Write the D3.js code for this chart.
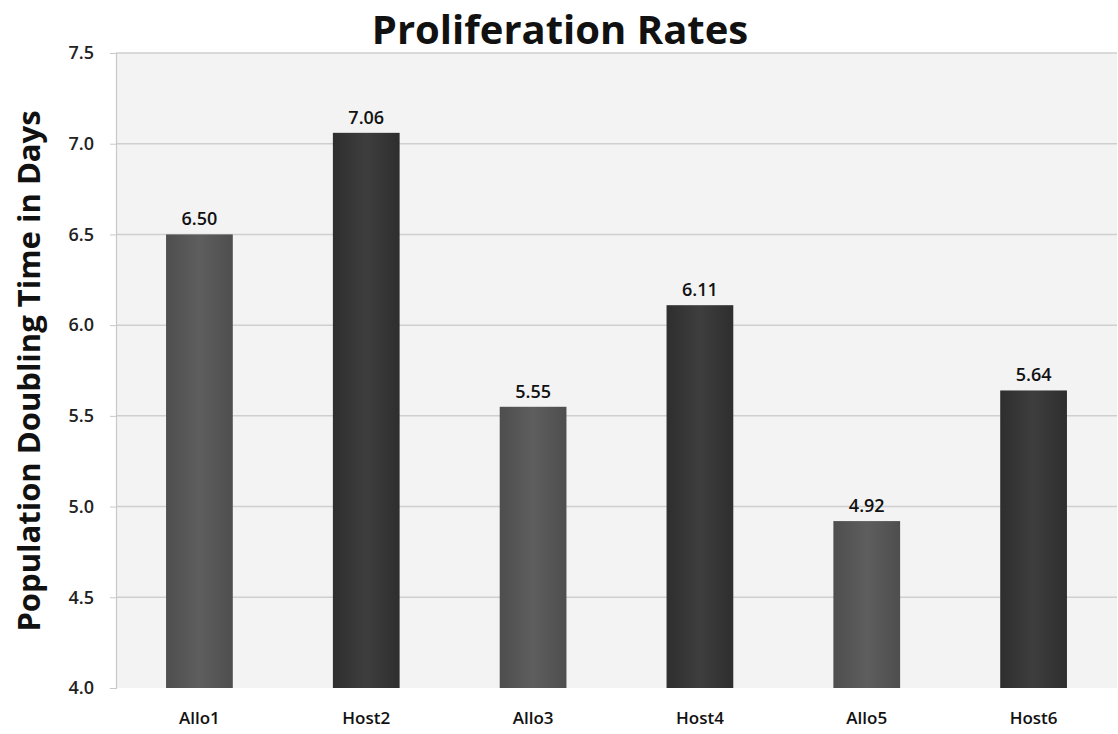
<!DOCTYPE html>
<html>
<head>
<meta charset="utf-8">
<script src="https://cdn.jsdelivr.net/npm/d3@7"></script>
<style>
  body { margin: 0; background: #fff; }
  text { font-family: "Open Sans", "Noto Sans", sans-serif; }
</style>
</head>
<body>
<svg id="chart"></svg>
<script>
// chart data
var categories = ["Allo1", "Host2", "Allo3", "Host4", "Allo5", "Host6"];
var values = [6.50, 7.06, 5.55, 6.11, 4.92, 5.64];
var groups = ["Allo", "Host", "Allo", "Host", "Allo", "Host"];
var yTicks = [4.0, 4.5, 5.0, 5.5, 6.0, 6.5, 7.0, 7.5];

var W = 1118, H = 734;
var margin = { top: 53, right: 1, bottom: 46, left: 116 };
var width = W - margin.left - margin.right;
var height = H - margin.top - margin.bottom;

var svg = d3.select("#chart")
  .attr("width", W)
  .attr("height", H);

// gradients for the slightly shaded bars
var defs = svg.append("defs");
var shades = { Allo: ["#4e4e4e", "#5e5e5e", "#4e4e4e"], Host: ["#2e2e2e", "#3e3e3e", "#2e2e2e"] };
Object.keys(shades).forEach(function(k) {
  var g = defs.append("linearGradient").attr("id", "grad" + k)
    .attr("x1", "0%").attr("x2", "100%").attr("y1", "0%").attr("y2", "0%");
  g.append("stop").attr("offset", "0%").attr("stop-color", shades[k][0]);
  g.append("stop").attr("offset", "50%").attr("stop-color", shades[k][1]);
  g.append("stop").attr("offset", "100%").attr("stop-color", shades[k][2]);
});

var g = svg.append("g")
  .attr("transform", "translate(" + margin.left + "," + margin.top + ")");

var x = d3.scaleBand()
  .domain(categories)
  .range([0, width])
  .paddingInner(0.6)
  .paddingOuter(0.3);

var y = d3.scaleLinear()
  .domain([4.0, 7.5])
  .range([height, 0]);

// plot background
g.append("rect")
  .attr("width", width)
  .attr("height", height)
  .attr("fill", "#f3f3f3");

// gridlines
g.selectAll(".grid")
  .data(yTicks.slice(1))
  .enter()
  .append("line")
  .attr("class", "grid")
  .attr("x1", 0)
  .attr("x2", width)
  .attr("y1", function(d) { return y(d); })
  .attr("y2", function(d) { return y(d); })
  .attr("stroke", "#cfcfcf")
  .attr("stroke-width", 1.5);

// y axis
var yAxis = d3.axisLeft(y)
  .tickValues(yTicks)
  .tickFormat(d3.format(".1f"))
  .tickSize(6)
  .tickPadding(16);

g.append("g")
  .attr("class", "y axis")
  .call(yAxis)
  .call(function(s) {
    s.select(".domain").attr("stroke", "#c8c8c8").attr("stroke-width", 1.2);
    s.selectAll(".tick line").attr("stroke", "#c8c8c8");
    s.selectAll(".tick text")
      .attr("fill", "#222")
      .style("font-size", "18px")
      .style("font-weight", "600");
  });

// bars
g.selectAll(".bar")
  .data(values)
  .enter()
  .append("rect")
  .attr("class", "bar")
  .attr("x", function(d, i) { return x(categories[i]); })
  .attr("y", function(d) { return y(d); })
  .attr("width", x.bandwidth())
  .attr("height", function(d) { return height - y(d); })
  .attr("fill", function(d, i) { return "url(#grad" + groups[i] + ")"; });

// value labels
g.selectAll(".val")
  .data(values)
  .enter()
  .append("text")
  .attr("class", "val")
  .attr("x", function(d, i) { return x(categories[i]) + x.bandwidth() / 2; })
  .attr("y", function(d) { return y(d) - 9; })
  .attr("text-anchor", "middle")
  .attr("fill", "#111")
  .style("font-size", "18px")
  .style("font-weight", "600")
  .text(function(d) { return d.toFixed(2); });

// x axis labels
var xAxis = d3.axisBottom(x).tickSize(0).tickPadding(24);
g.append("g")
  .attr("class", "x axis")
  .attr("transform", "translate(0," + height + ")")
  .call(xAxis)
  .call(function(s) {
    s.select(".domain").remove();
    s.selectAll(".tick text")
      .attr("fill", "#111")
      .style("font-size", "17px")
      .style("font-weight", "600");
  });

// title
svg.append("text")
  .attr("x", 560)
  .attr("y", 44)
  .attr("text-anchor", "middle")
  .attr("fill", "#111")
  .style("font-size", "40px")
  .style("font-weight", "700")
  .text("Proliferation Rates");

// y axis title
svg.append("text")
  .attr("transform", "translate(40," + 371 + ") rotate(-90)")
  .attr("text-anchor", "middle")
  .attr("fill", "#111")
  .style("font-size", "31px")
  .style("font-weight", "700")
  .text("Population Doubling Time in Days");
</script>
</body>
</html>
